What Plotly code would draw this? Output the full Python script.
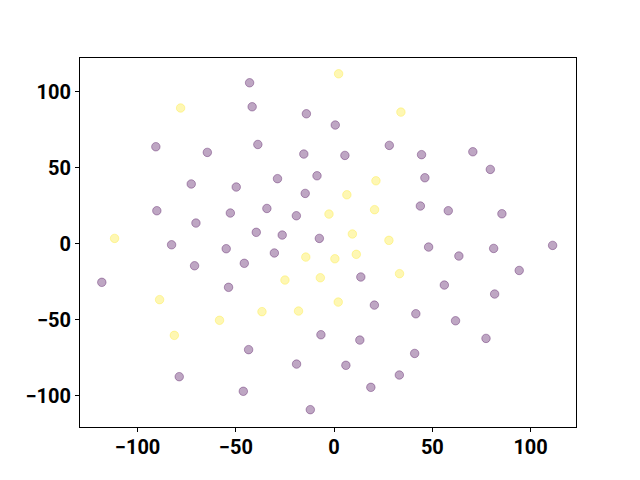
import plotly.graph_objects as go

purple_x = [-43.0, -41.7, -14.1, -90.7, -64.5, -38.8, -15.4, -72.7, -49.8, -28.8,
            -8.7, -14.7, -90.2, -52.8, -34.2, -19.2, -70.3, -39.6, -26.4, -7.5,
            -82.7, -54.9, -30.4, -71.0, -45.7, -118.2, -53.7, -6.7, -43.5, -19.1,
            -78.8, -46.2, -12.1, 0.6, 28.1, 5.5, 44.5, 70.6, 79.5, 46.2,
            43.9, 58.1, 85.4, 48.1, 63.5, 81.2, 111.2, 94.2, 13.6, 56.1,
            81.7, 20.5, 41.6, 61.8, 77.3, 13.1, 41.0, 6.0, 33.2, 18.7]
purple_y = [105.9, 90.1, 85.5, 63.8, 60.1, 65.3, 59.0, 39.3, 37.3, 42.8,
            44.7, 33.1, 21.7, 20.2, 23.2, 18.4, 13.6, 7.5, 5.7, 3.5,
            -0.7, -3.3, -6.1, -14.5, -12.9, -25.4, -28.7, -59.9, -69.7, -79.2,
            -87.5, -97.1, -109.2, 78.1, 64.7, 58.1, 58.6, 60.5, 48.9, 43.4,
            24.8, 21.7, 19.7, -2.2, -8.1, -3.1, -1.1, -17.6, -21.9, -27.2,
            -33.1, -40.4, -46.1, -50.7, -62.3, -63.4, -72.2, -80.0, -86.4, -94.5]

yellow_x = [-78.1, 2.3, 34.0, -2.6, -111.7, 21.3, 6.5, 20.6, 9.3, 27.9,
            -14.4, 0.4, 11.3, -25.0, -7.0, 33.3, -88.8, -36.7, -18.1, 2.1,
            -58.3, -81.3]
yellow_y = [89.3, 111.8, 86.6, 19.5, 3.5, 41.4, 32.2, 22.4, 6.4, 2.2,
            -8.8, -9.9, -7.0, -23.9, -22.4, -19.7, -36.8, -44.7, -44.3, -38.4,
            -50.4, -60.3]

x_ticks = [-100, -50, 0, 50, 100]
y_ticks = [-100, -50, 0, 50, 100]

fig = go.Figure()
fig.add_trace(go.Scatter(
    x=purple_x, y=purple_y, mode="markers",
    marker=dict(size=8.5, color="rgba(68,1,84,0.35)",
                line=dict(width=1, color="rgba(68,1,84,0.35)")),
    showlegend=False))
fig.add_trace(go.Scatter(
    x=yellow_x, y=yellow_y, mode="markers",
    marker=dict(size=8.5, color="rgba(253,231,37,0.35)",
                line=dict(width=1, color="rgba(253,231,37,0.35)")),
    showlegend=False))

axis_common = dict(
    showgrid=False, zeroline=False, showline=True, linecolor="black",
    linewidth=1, mirror=True, ticks="outside", ticklen=4, tickwidth=1,
    tickcolor="black", automargin=False,
    tickfont=dict(family="Roboto", size=20, color="black", weight="bold"),
)
fig.update_xaxes(range=[-129.3, 123.1], tickvals=x_ticks,
                 ticklabelstandoff=-2, **axis_common)
fig.update_yaxes(range=[-120.6, 122.2], tickvals=y_ticks, **axis_common)

fig.update_layout(
    width=640, height=480,
    margin=dict(l=72, r=72, t=50, b=61),
    plot_bgcolor="white", paper_bgcolor="white",
)

fig.write_html("out.html")
